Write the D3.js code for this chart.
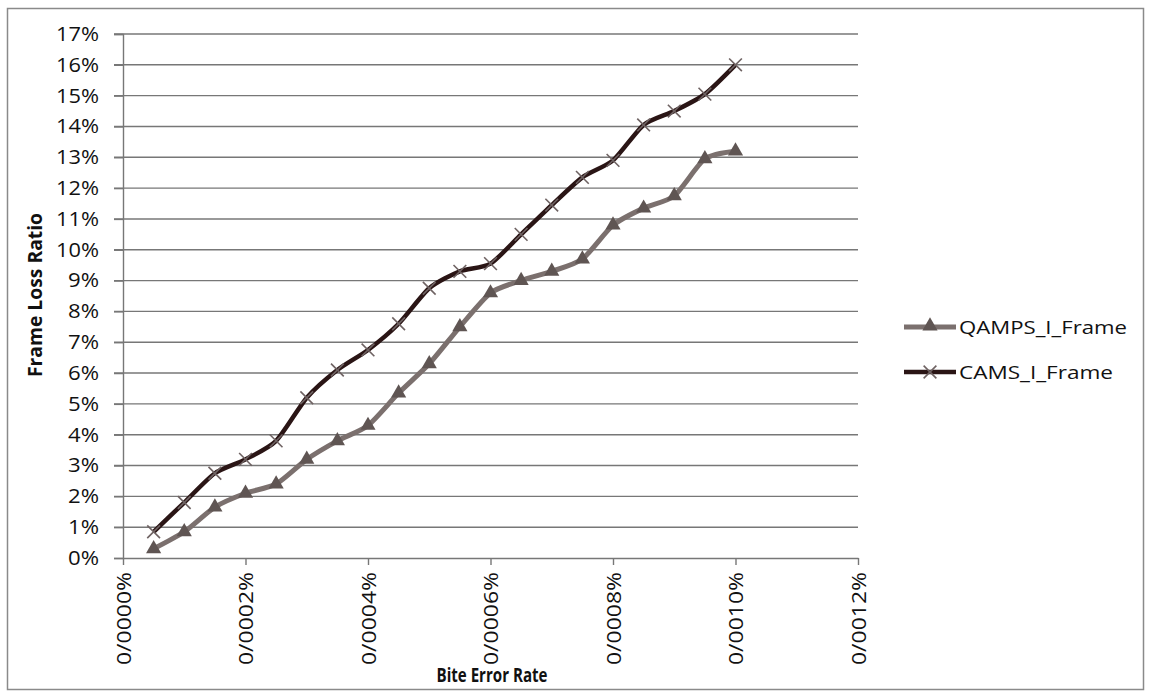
<!DOCTYPE html>
<html>
<head>
<meta charset="utf-8">
<script src="https://cdn.jsdelivr.net/npm/d3@7"></script>
<style>
  body { margin: 0; background: #fff; }
  text { font-family: "Open Sans", Lato, sans-serif; fill: #111; }
</style>
</head>
<body>
<svg id="chart" width="1149" height="694"></svg>
<script>
// bit error rate (x) in percent
var berValues = [0.00005, 0.0001, 0.00015, 0.0002, 0.00025, 0.0003, 0.00035, 0.0004, 0.00045, 0.0005,
                 0.00055, 0.0006, 0.00065, 0.0007, 0.00075, 0.0008, 0.00085, 0.0009, 0.00095, 0.001];
// frame loss ratio in percent
var qampsValues = [0.3, 0.85, 1.65, 2.1, 2.4, 3.2, 3.8, 4.3, 5.35, 6.3,
                   7.5, 8.6, 9.0, 9.3, 9.7, 10.8, 11.35, 11.75, 12.95, 13.2];
var camsValues = [0.85, 1.8, 2.75, 3.2, 3.8, 5.2, 6.1, 6.75, 7.6, 8.75,
                  9.3, 9.55, 10.5, 11.45, 12.35, 12.9, 14.05, 14.5, 15.05, 16.0];
var xTickValues = [0, 0.0002, 0.0004, 0.0006, 0.0008, 0.001, 0.0012];
var xTickLabels = ["0/0000%", "0/0002%", "0/0004%", "0/0006%", "0/0008%", "0/0010%", "0/0012%"];
var yTickValues = d3.range(0, 18);
var seriesNames = ["QAMPS_I_Frame", "CAMS_I_Frame"];

var svg = d3.select("#chart");

// outer chart border
svg.append("rect")
    .attr("x", 7.5).attr("y", 8.5)
    .attr("width", 1136).attr("height", 681)
    .attr("fill", "#fff")
    .attr("stroke", "#8a8a8a").attr("stroke-width", 1.5);

var x = d3.scaleLinear().domain([0, 0.0012]).range([123, 858]);
var y = d3.scaleLinear().domain([0, 17]).range([558, 34]);

// gridlines
svg.append("g").selectAll("line")
    .data(yTickValues.slice(1))
    .enter().append("line")
    .attr("x1", 114).attr("x2", 858)
    .attr("y1", function(d) { return y(d); })
    .attr("y2", function(d) { return y(d); })
    .attr("stroke", "#777").attr("stroke-width", 1.4);

// y axis
var yAxis = svg.append("g")
    .attr("transform", "translate(123,0)")
    .call(d3.axisLeft(y).tickValues(yTickValues).tickSize(9).tickPadding(15)
        .tickFormat(function(d) { return d + "%"; }));
yAxis.select(".domain").attr("stroke", "#777").attr("stroke-width", 1.4);
yAxis.selectAll(".tick line").attr("stroke", "#777").attr("stroke-width", 1.4);
yAxis.selectAll("text").attr("font-size", 20).attr("fill", "#111")
    .attr("textLength", function(d) { return d < 10 ? 31 : 43; })
    .attr("lengthAdjust", "spacingAndGlyphs");

// x axis
var xAxis = svg.append("g")
    .attr("transform", "translate(0,558)")
    .call(d3.axisBottom(x).tickValues(xTickValues).tickSize(7).tickSizeOuter(0)
        .tickFormat(function(d, i) { return xTickLabels[i]; }));
xAxis.select(".domain").attr("stroke", "#777").attr("stroke-width", 1.4);
xAxis.selectAll(".tick line").attr("stroke", "#777").attr("stroke-width", 1.4);
xAxis.selectAll("text")
    .attr("font-size", 20).attr("fill", "#111")
    .attr("text-anchor", "end")
    .attr("transform", "rotate(-90)")
    .attr("x", -14).attr("y", 0).attr("dy", "0.35em")
    .attr("textLength", 93).attr("lengthAdjust", "spacingAndGlyphs");

// axis titles
svg.append("text")
    .attr("x", 492).attr("y", 682)
    .attr("text-anchor", "middle")
    .attr("font-size", 19).attr("font-weight", "bold")
    .attr("textLength", 111).attr("lengthAdjust", "spacingAndGlyphs")
    .text("Bite Error Rate");
svg.append("text")
    .attr("transform", "translate(42,295) rotate(-90)")
    .attr("text-anchor", "middle")
    .attr("font-size", 19).attr("font-weight", "bold")
    .attr("textLength", 164).attr("lengthAdjust", "spacingAndGlyphs")
    .text("Frame Loss Ratio");

var line = d3.line()
    .x(function(d) { return x(d[0]); })
    .y(function(d) { return y(d[1]); })
    .curve(d3.curveCardinal.tension(0.3));

var qamps = d3.zip(berValues, qampsValues);
var cams = d3.zip(berValues, camsValues);

var triangle = d3.symbol().type(d3.symbolTriangle).size(100);

// QAMPS series
svg.append("path").datum(qamps)
    .attr("d", line).attr("fill", "none")
    .attr("stroke", "#7b706e").attr("stroke-width", 5);
svg.append("g").selectAll("path")
    .data(qamps).enter().append("path")
    .attr("d", triangle)
    .attr("transform", function(d) { return "translate(" + x(d[0]) + "," + y(d[1]) + ")"; })
    .attr("fill", "#5f5553");

// CAMS series
svg.append("path").datum(cams)
    .attr("d", line).attr("fill", "none")
    .attr("stroke", "#2a1515").attr("stroke-width", 4.5);
var cross = svg.append("g").selectAll("g")
    .data(cams).enter().append("g")
    .attr("transform", function(d) { return "translate(" + x(d[0]) + "," + y(d[1]) + ") rotate(45)"; });
cross.append("line").attr("x1", -9).attr("x2", 9).attr("y1", 0).attr("y2", 0)
    .attr("stroke", "#6e6262").attr("stroke-width", 1.6);
cross.append("line").attr("x1", 0).attr("x2", 0).attr("y1", -9).attr("y2", 9)
    .attr("stroke", "#6e6262").attr("stroke-width", 1.6);

// legend
var legend = svg.append("g").selectAll("g")
    .data(seriesNames).enter().append("g")
    .attr("transform", function(d, i) { return "translate(904," + (327 + i * 45) + ")"; });
legend.append("line").attr("x1", 0).attr("x2", 52).attr("y1", 0).attr("y2", 0)
    .attr("stroke", function(d, i) { return i === 0 ? "#7b706e" : "#2a1515"; })
    .attr("stroke-width", function(d, i) { return i === 0 ? 5 : 4.5; });
legend.filter(function(d, i) { return i === 0; }).append("path")
    .attr("d", triangle).attr("transform", "translate(26,-1)").attr("fill", "#5f5553");
legend.filter(function(d, i) { return i === 1; }).each(function() {
    var g = d3.select(this).append("g").attr("transform", "translate(26,0) rotate(45)");
    g.append("line").attr("x1", -9).attr("x2", 9).attr("stroke", "#6e6262").attr("stroke-width", 1.6);
    g.append("line").attr("y1", -9).attr("y2", 9).attr("stroke", "#6e6262").attr("stroke-width", 1.6);
});
legend.append("text")
    .attr("x", 55).attr("dy", "0.35em")
    .attr("font-size", 19)
    .attr("textLength", function(d, i) { return i === 0 ? 168 : 154; })
    .attr("lengthAdjust", "spacingAndGlyphs")
    .text(function(d) { return d; });
</script>
</body>
</html>
